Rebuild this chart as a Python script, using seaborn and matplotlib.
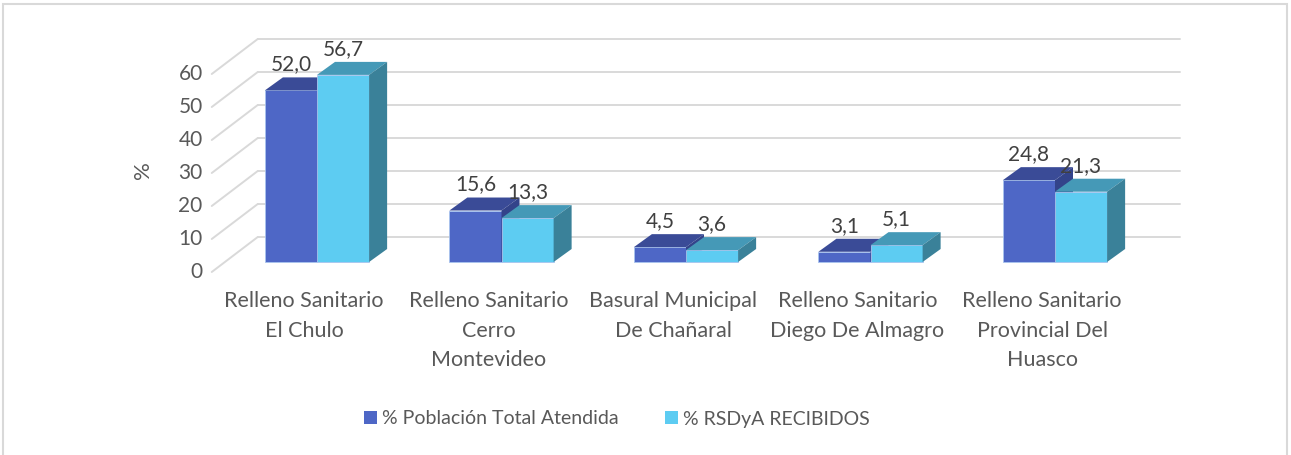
import pandas as pd
import matplotlib.pyplot as plt
import seaborn as sns
from matplotlib.patches import Polygon, Patch, Rectangle

# datos del grafico
sitios = ["Relleno Sanitario\nEl Chulo", "Relleno Sanitario\nCerro\nMontevideo",
          "Basural Municipal\nDe Chañaral", "Relleno Sanitario\nDiego De Almagro",
          "Relleno Sanitario\nProvincial Del\nHuasco"]
series = ["% Población Total Atendida", "% RSDyA RECIBIDOS"]
poblacion = [52.0, 15.6, 4.5, 3.1, 24.8]
rsdya = [56.7, 13.3, 3.6, 5.1, 21.3]
y_ticks = [0, 10, 20, 30, 40, 50, 60]

df = pd.DataFrame({
    "sitio": sitios * 2,
    "serie": [series[0]] * 5 + [series[1]] * 5,
    "valor": poblacion + rsdya,
})

frente = ["#4E67C6", "#5DCCF2"]
techo = ["#3A4B97", "#4599B7"]
lado = ["#33438A", "#3A8199"]
gris = "#595959"

sns.set_style("white")
plt.rcParams["font.family"] = ["Lato", "DejaVu Sans"]

W, H = 1291, 455
fig = plt.figure(figsize=(W / 100, H / 100), dpi=100)
ax = fig.add_axes([224.75 / W, 193 / H, 922.5 / W, 198 / H])

sns.barplot(data=df, x="sitio", y="valor", hue="serie", palette=frente,
            width=0.565, saturation=1, legend=False, ax=ax, zorder=3,
            edgecolor="#A9C4EE", linewidth=0.6)
ax.set_xlim(-0.5, 4.5)
ax.set_ylim(0, 60)
ax.axis("off")

kx = 1 / 184.5   # unidades por pixel en x
ky = 1 / 3.3     # unidades por pixel en y

# paredes / lineas de division
for v in y_ticks:
    ax.plot([-0.5 + 33 * kx, 4.5 + 33 * kx], [v + 25 * ky] * 2, color="#D9D9D9",
            lw=1.4, clip_on=False, zorder=1)
    ax.plot([-0.5 - 13 * kx, -0.5 + 33 * kx], [v - 10 * ky, v + 25 * ky],
            color="#D9D9D9", lw=1.4, clip_on=False, zorder=1)
    ax.text(-0.5 - 22 * kx, v - 10 * ky, str(v), ha="right", va="center",
            fontsize=15, color=gris)
ax.text(-0.5 - 82 * kx, 28, "%", rotation=90, ha="center", va="center",
        fontsize=16, color=gris)

# caras 3D de las barras
dx, dy = 18 * kx, 13 * ky
for i, p in enumerate(ax.patches):
    s = i // 5
    x0, w, h = p.get_x(), p.get_width(), p.get_height()
    top = Polygon([(x0, h), (x0 + w, h), (x0 + w + dx, h + dy), (x0 + dx, h + dy)],
                  closed=True, fc=techo[s], ec="none", clip_on=False, zorder=3 + s)
    side = Polygon([(x0 + w, 0), (x0 + w + dx, dy), (x0 + w + dx, h + dy), (x0 + w, h)],
                   closed=True, fc=lado[s], ec="none", clip_on=False, zorder=3 + s)
    ax.add_patch(top)
    ax.add_patch(side)
    p.set_zorder(3 + s)
    p.set_clip_on(False)
    ax.text(x0 + w / 2, h + 26 * ky, f"{h:.1f}".replace(".", ","), ha="center",
            va="center", fontsize=15, color="#404040", zorder=10)

# etiquetas de categorias
for i, s in enumerate(sitios):
    ax.text(i - 13 * kx, -29 * ky, s, ha="center", va="top", fontsize=15.5,
            color=gris, linespacing=1.6)

handles = [Patch(fc=c, ec="none") for c in frente]
fig.legend(handles, series, loc="center", bbox_to_anchor=(617 / W, 1 - 419 / H),
           ncol=2, frameon=False, fontsize=14, handlelength=0.65,
           handleheight=0.65, handletextpad=0.25, columnspacing=2.4,
           labelcolor=gris)

# marco exterior
fig.patches.append(Rectangle((3 / W, -0.01), 1284 / W, 1 - 4 / H + 0.01,
                             transform=fig.transFigure, fill=False,
                             ec="#D9D9D9", lw=1.5))

fig.savefig("out.png", dpi=100)
